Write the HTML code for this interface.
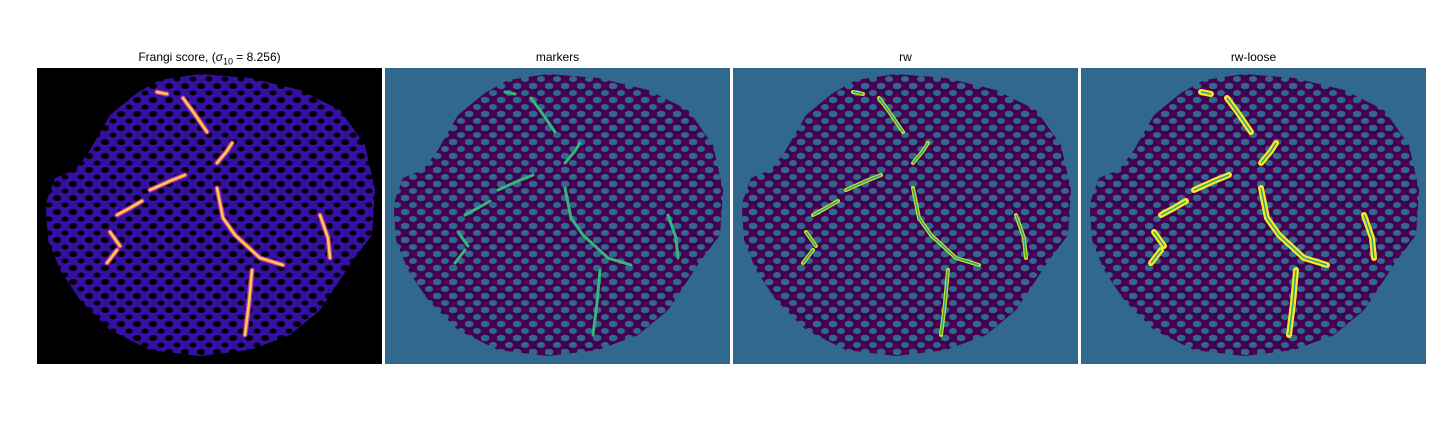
<!DOCTYPE html>
<html><head><meta charset="utf-8"><style>
body{margin:0;background:#fff;width:1440px;height:432px;overflow:hidden;font-family:"Liberation Sans","DejaVu Sans",sans-serif}
.t{position:absolute;top:50px;font-size:12px;color:#000;text-align:center;width:345px}
svg.p{position:absolute;top:68px;width:345px;height:296px}
</style></head><body>
<div class="t" style="left:37px">Frangi score, (<i>σ</i><sub style="font-size:9px">10</sub> = 8.256)</div>
<div class="t" style="left:385px">markers</div>
<div class="t" style="left:733px">rw</div>
<div class="t" style="left:1081px">rw-loose</div>

<svg width="0" height="0" style="position:absolute">
<defs>
<pattern id="holesK" width="16" height="14" patternUnits="userSpaceOnUse">
<rect width="16" height="14" fill="#3510a0"/>
<ellipse cx="4" cy="4" rx="4" ry="3" fill="#000"/><ellipse cx="12" cy="11" rx="3.5" ry="2.5" fill="#000"/>
</pattern>
<pattern id="holesT" width="16" height="14" patternUnits="userSpaceOnUse">
<rect width="16" height="14" fill="#440154"/>
<ellipse cx="4" cy="4" rx="4.5" ry="3.2" fill="#31688e"/><ellipse cx="12" cy="11" rx="4" ry="3" fill="#31688e"/>
</pattern>
</defs>
</svg>

<script>
const blob="M10,132 L18,110 L38,102 L53,82 L73,47 L100,25 L123,12 L163,6 L213,10 L263,22 L303,42 L328,77 L338,122 L335,167 L316,192 L303,212 L283,242 L253,267 L213,282 L163,288 L113,282 L73,262 L43,232 L23,202 L11,172 L9,142 Z";
const vessels=[
 [[180,120],[186,150],[198,167],[223,190],[246,197]],
 [[215,202],[212,235],[208,267]],
 [[146,30],[157,45],[170,64]],
 [[113,122],[133,113],[148,107]],
 [[80,147],[93,140],[105,133]],
 [[73,164],[83,178]],
 [[70,195],[80,182]],
 [[283,147],[291,170],[293,190]],
 [[180,95],[190,83],[195,75]],
 [[120,24],[130,26]]
];
const panels=[{x:37,bg:"#000",fill:"url(#holesK)",col:"#f5a623",name:"frangi"},
 {x:385,bg:"#31688e",fill:"url(#holesT)",col:"#35b779",name:"markers"},
 {x:733,bg:"#31688e",fill:"url(#holesT)",col:"#c8e020",name:"rw"},
 {x:1081,bg:"#31688e",fill:"url(#holesT)",col:"#fde725",name:"rw-loose"}];
const NS="http://www.w3.org/2000/svg";
panels.forEach((p,i)=>{
 const s=document.createElementNS(NS,"svg");
 s.setAttribute("class","p");s.style.left=p.x+"px";s.setAttribute("viewBox","0 0 345 296");
 
 
 let h=`<rect width="345" height="296" fill="${p.bg}"/><path d="${blob}" fill="${p.fill}"/>`;
 const w=[4,3,4,6][i];
 vessels.forEach(v=>{
  const d="M"+v.map(q=>q.join(",")).join(" L");
  if(i==0) h+=`<path d="${d}" fill="none" stroke="#c2379c" stroke-width="5" stroke-linecap="round"/><path d="${d}" fill="none" stroke="#fbd045" stroke-width="2.5" stroke-linecap="round"/>`;
  else h+=`<path d="${d}" fill="none" stroke="${p.col}" stroke-width="${w}" stroke-linecap="round"/>`+(i>1?`<path d="${d}" fill="none" stroke="#21a585" stroke-width="1.5"/>`:"");
 });
 s.innerHTML=h;
 document.body.appendChild(s);
});
</script>
</body></html>
